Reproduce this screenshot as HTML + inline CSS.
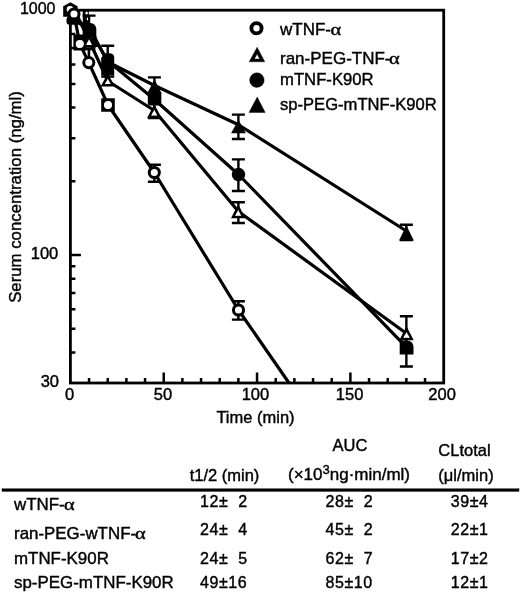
<!DOCTYPE html><html><head><meta charset="utf-8"><style>html,body{margin:0;padding:0;background:#fff;width:520px;height:595px;overflow:hidden}</style></head><body><svg width="520" height="595" viewBox="0 0 520 595" style="display:block;will-change:transform;font-family:'Liberation Sans',sans-serif">
<rect width="520" height="595" fill="#fff"/>
<rect x="70.40" y="10.20" width="373.30" height="372.80" fill="none" stroke="#000" stroke-width="2.8"/>
<path d="M89.06,383.00v-5M107.73,383.00v-5M126.40,383.00v-5M145.06,383.00v-5M163.73,383.00v-10.5M182.39,383.00v-5M201.06,383.00v-5M219.72,383.00v-5M238.39,383.00v-5M257.05,383.00v-10.5M275.72,383.00v-5M294.38,383.00v-5M313.05,383.00v-5M331.71,383.00v-5M350.38,383.00v-10.5M369.04,383.00v-5M387.71,383.00v-5M406.37,383.00v-5M425.03,383.00v-5M70.40,352.42h5M70.40,328.69h5M70.40,309.31h5M70.40,292.92h5M70.40,278.72h5M70.40,266.20h5M70.40,181.31h5M70.40,138.20h5M70.40,107.62h5M70.40,83.89h5M70.40,64.51h5M70.40,48.12h5M70.40,33.92h5M70.40,21.40h5M70.40,255.00h10.5" stroke="#000" stroke-width="2.5" fill="none"/>
<defs><clipPath id="pc"><rect x="60.40" y="0" width="393.30" height="383.00"/></clipPath></defs>
<g clip-path="url(#pc)">
<polyline points="70.40,9.50 74.00,14.00 79.80,43.90 88.80,62.60 108.00,105.00 154.30,172.50 238.50,310.00 289.00,383.00 300.00,400.00" fill="none" stroke="#000" stroke-width="3.2" stroke-linejoin="round"/>
<polyline points="70.40,9.50 74.00,18.00 79.80,21.00 89.10,40.50 107.80,81.00 154.30,110.50 238.40,211.50 406.50,333.50" fill="none" stroke="#000" stroke-width="3.2" stroke-linejoin="round"/>
<polyline points="70.40,9.50 74.00,20.00 89.50,30.00 107.80,61.00 154.50,99.50 238.50,174.50 406.60,347.40" fill="none" stroke="#000" stroke-width="3.2" stroke-linejoin="round"/>
<polyline points="70.40,9.50 74.00,19.00 89.50,28.00 107.80,62.00 154.50,85.50 238.50,124.80 406.40,231.00" fill="none" stroke="#000" stroke-width="3.2" stroke-linejoin="round"/>
</g>
<path d="M89.06,15.60V46.00M82.56,15.60H95.56M82.56,46.00H95.56" stroke="#000" stroke-width="2.4" fill="none"/>
<path d="M107.73,45.70V76.60M101.23,45.70H114.23M101.23,76.60H114.23" stroke="#000" stroke-width="2.4" fill="none"/>
<path d="M154.39,77.40V118.00M147.89,77.40H160.89M147.89,118.00H160.89" stroke="#000" stroke-width="2.4" fill="none"/>
<path d="M154.39,164.80V181.70M147.89,164.80H160.89M147.89,181.70H160.89" stroke="#000" stroke-width="2.4" fill="none"/>
<path d="M238.39,114.60V139.00M231.89,114.60H244.89M231.89,139.00H244.89" stroke="#000" stroke-width="2.4" fill="none"/>
<path d="M238.39,159.40V191.00M231.89,159.40H244.89M231.89,191.00H244.89" stroke="#000" stroke-width="2.4" fill="none"/>
<path d="M238.39,202.20V223.00M231.89,202.20H244.89M231.89,223.00H244.89" stroke="#000" stroke-width="2.4" fill="none"/>
<path d="M238.39,301.30V319.60M231.89,301.30H244.89M231.89,319.60H244.89" stroke="#000" stroke-width="2.4" fill="none"/>
<path d="M406.37,224.70V240.00M399.87,224.70H412.87M399.87,240.00H412.87" stroke="#000" stroke-width="2.4" fill="none"/>
<path d="M406.37,316.30V366.50M399.87,316.30H412.87M399.87,366.50H412.87" stroke="#000" stroke-width="2.4" fill="none"/>
<path d="M88.9,48.9V57 M82.4,48.9H95.4" stroke="#000" stroke-width="2.6"/>
<path d="M90.2,33.5 L95.8,34 L99.2,47 L93.5,47Z" fill="#000"/>
<path d="M63.2,16.8 V6.3 L70.4,2.2 L77.6,6.3 V16.8 Z" fill="#000"/>
<circle cx="70.0" cy="9.3" r="3.3" fill="#fff"/>
<rect x="66.5" y="16.5" width="14" height="8.3" rx="3" fill="#000"/>
<rect x="82.8" y="11" width="6" height="13" fill="#000"/>
<ellipse cx="86.6" cy="13" rx="1.3" ry="1.5" fill="#fff"/>
<ellipse cx="87.4" cy="19" rx="0.7" ry="1.4" fill="#fff"/>
<path d="M82.7,36.8 V27 A4,4 0 0,1 86.7,23 H90.5 A5.8,5.8 0 0,1 96.3,28.8 V36.8Z" fill="#000"/>
<path d="M89.10,33.50 L96.30,47.50 L81.90,47.50Z M89.10,39.18 L92.04,44.90 L86.16,44.90Z" fill="#000" fill-rule="evenodd"/>
<path d="M89.10,39.18 L92.04,44.90 L86.16,44.90Z" fill="#fff"/>
<circle cx="74.00" cy="14.00" r="5.05" fill="#fff" stroke="#000" stroke-width="3.0"/>
<path d="M73.4,34.4 H86.2 V50.5 H73.4Z M79.8,39.9 a4,4 0 1,0 0.01,0Z" fill="#000" fill-rule="evenodd"/>
<circle cx="79.8" cy="43.9" r="4" fill="#fff"/>
<circle cx="88.80" cy="62.60" r="5.05" fill="#fff" stroke="#000" stroke-width="3.0"/>
<path d="M101.2,75.5 V58 L104.5,53.2 H110 Q114.2,53.5 114.2,57.5 V75.5Z" fill="#000"/>
<path d="M107.80,73.40 L115.00,86.60 L100.60,86.60Z M107.80,78.83 L110.62,84.00 L104.98,84.00Z" fill="#000" fill-rule="evenodd"/>
<path d="M107.80,78.83 L110.62,84.00 L104.98,84.00Z" fill="#fff"/>
<path d="M101.20,98.20h13.6v13.6h-13.6Z M108.00,101.10a3.9,3.9 0 1,0 0.01,0Z" fill="#000" fill-rule="evenodd"/>
<circle cx="108.00" cy="105.00" r="3.9" fill="#fff"/>
<path d="M154.30,104.00 L161.50,118.00 L147.10,118.00Z M154.30,109.68 L157.24,115.40 L151.36,115.40Z" fill="#000" fill-rule="evenodd"/>
<path d="M154.30,109.68 L157.24,115.40 L151.36,115.40Z" fill="#fff"/>
<rect x="147.8" y="92.2" width="13.5" height="13.3" rx="2.5" fill="#000"/>
<path d="M154.50,79.50 L161.90,93.70 L147.10,93.70Z" fill="#000"/>
<circle cx="154.30" cy="172.50" r="5.05" fill="#fff" stroke="#000" stroke-width="3.0"/>
<path d="M238.50,119.70 L245.90,133.30 L231.10,133.30Z" fill="#000"/>
<circle cx="238.50" cy="174.50" r="6.7" fill="#000"/>
<path d="M238.20,204.30 L245.40,218.30 L231.00,218.30Z M238.20,209.98 L241.14,215.70 L235.26,215.70Z" fill="#000" fill-rule="evenodd"/>
<path d="M238.20,209.98 L241.14,215.70 L235.26,215.70Z" fill="#fff"/>
<circle cx="238.50" cy="310.00" r="5.05" fill="#fff" stroke="#000" stroke-width="3.0"/>
<path d="M406.40,225.40 L413.80,240.60 L399.00,240.60Z" fill="#000"/>
<path d="M399.70,340.40H407.60A6.9,6.9 0 0,1 413.50,346.90V354.60H399.70Z" fill="#000"/>
<path d="M406.50,326.30 L413.70,340.30 L399.30,340.30Z M406.50,331.98 L409.44,337.70 L403.56,337.70Z" fill="#000" fill-rule="evenodd"/>
<path d="M406.50,331.98 L409.44,337.70 L403.56,337.70Z" fill="#fff"/>
<g stroke="#000" stroke-width="0.4">
<text x="55.5" y="14.4" font-size="16" text-anchor="end" >1000</text>
<text x="58.3" y="259.0" font-size="16.5" text-anchor="end" >100</text>
<text x="59" y="387.0" font-size="16.5" text-anchor="end" >30</text>
<text x="69.60000000000001" y="400.3" font-size="16.5" text-anchor="middle" >0</text>
<text x="162.925" y="400.3" font-size="16.5" text-anchor="middle" >50</text>
<text x="255.45" y="400.3" font-size="16.5" text-anchor="middle" >100</text>
<text x="349.575" y="400.3" font-size="16.5" text-anchor="middle" >150</text>
<text x="442.1" y="400.3" font-size="16.5" text-anchor="middle" >200</text>
<text x="255.5" y="423.0" font-size="16.5" text-anchor="middle" >Time (min)</text>
<text transform="translate(20.8,197) rotate(-90)" font-size="16.8" text-anchor="middle">Serum concentration (ng/ml)</text>
<circle cx="256.50" cy="28.30" r="5.1" fill="#fff" stroke="#000" stroke-width="3.8"/>
<path d="M257.1,47.2 L264.8,61.8 L249.2,61.8Z M257.1,53.9 L259.7,59 L254.4,59Z" fill="#000" fill-rule="evenodd"/>
<circle cx="256.90" cy="80.10" r="7.3" fill="#000"/>
<path d="M257.2,97 L265.2,112.5 L249,112.5Z" fill="#000"/>
<text x="280" y="34.9" font-size="17" text-anchor="start" >wTNF-</text>
<text transform="translate(330.40,34.9) scale(1.2,0.95)" font-family="'Liberation Serif',serif" font-size="17">&#945;</text>
<text x="280" y="63.6" font-size="17" text-anchor="start" >ran-PEG-TNF-</text>
<text transform="translate(389.00,63.6) scale(1.2,0.95)" font-family="'Liberation Serif',serif" font-size="17">&#945;</text>
<text x="280" y="85.3" font-size="16.7" text-anchor="start" >mTNF-K90R</text>
<text x="280" y="110.3" font-size="16.6" text-anchor="start" >sp-PEG-mTNF-K90R</text>
<text x="224.5" y="480.8" font-size="16.5" text-anchor="middle" >t1/2 (min)</text>
<text x="350" y="451" font-size="16.5" text-anchor="middle" >AUC</text>
<text x="349" y="480" font-size="17" text-anchor="middle">(&#215;10<tspan dy="-6" font-size="13">3</tspan><tspan dy="6">ng&#183;min/ml)</tspan></text>
<text x="464.5" y="455.6" font-size="16.5" text-anchor="middle" >CLtotal</text>
<text x="466" y="480.8" font-size="16.5" text-anchor="middle" >(&#956;l/min)</text>
<rect x="2" y="488.8" width="517" height="2.6" fill="#000"/>
<text transform="translate(64.10,510.3) scale(1.2,0.95)" font-family="'Liberation Serif',serif" font-size="17">&#945;</text>
<text transform="translate(135.00,538.7) scale(1.2,0.95)" font-family="'Liberation Serif',serif" font-size="17">&#945;</text>
<text transform="translate(14,510.3) scale(1.025,0.95)" font-size="16.5">wTNF-</text>
<text x="200" y="506.8" font-size="16" letter-spacing="0.55" xml:space="preserve">12&#177;  2</text>
<text x="325.5" y="506.8" font-size="16" letter-spacing="0.55" xml:space="preserve">28&#177;  2</text>
<text x="450.8" y="506.8" font-size="16" letter-spacing="0.55" xml:space="preserve">39&#177;4</text>
<text transform="translate(14,538.9) scale(1.025,0.95)" font-size="16.5">ran-PEG-wTNF-</text>
<text x="200" y="535.0" font-size="16" letter-spacing="0.55" xml:space="preserve">24&#177;  4</text>
<text x="325.5" y="535.0" font-size="16" letter-spacing="0.55" xml:space="preserve">45&#177;  2</text>
<text x="450.8" y="535.0" font-size="16" letter-spacing="0.55" xml:space="preserve">22&#177;1</text>
<text transform="translate(14,564.0) scale(1.025,0.95)" font-size="16.5">mTNF-K90R</text>
<text x="200" y="563.7" font-size="16" letter-spacing="0.55" xml:space="preserve">24&#177;  5</text>
<text x="325.5" y="563.7" font-size="16" letter-spacing="0.55" xml:space="preserve">62&#177;  7</text>
<text x="450.8" y="563.7" font-size="16" letter-spacing="0.55" xml:space="preserve">17&#177;2</text>
<text transform="translate(14,588.0) scale(1.025,0.95)" font-size="16.5">sp-PEG-mTNF-K90R</text>
<text x="200" y="587.9" font-size="16" letter-spacing="0.55" xml:space="preserve">49&#177;16</text>
<text x="325.5" y="587.9" font-size="16" letter-spacing="0.55" xml:space="preserve">85&#177;10</text>
<text x="450.8" y="587.9" font-size="16" letter-spacing="0.55" xml:space="preserve">12&#177;1</text>
</g>
</svg></body></html>
